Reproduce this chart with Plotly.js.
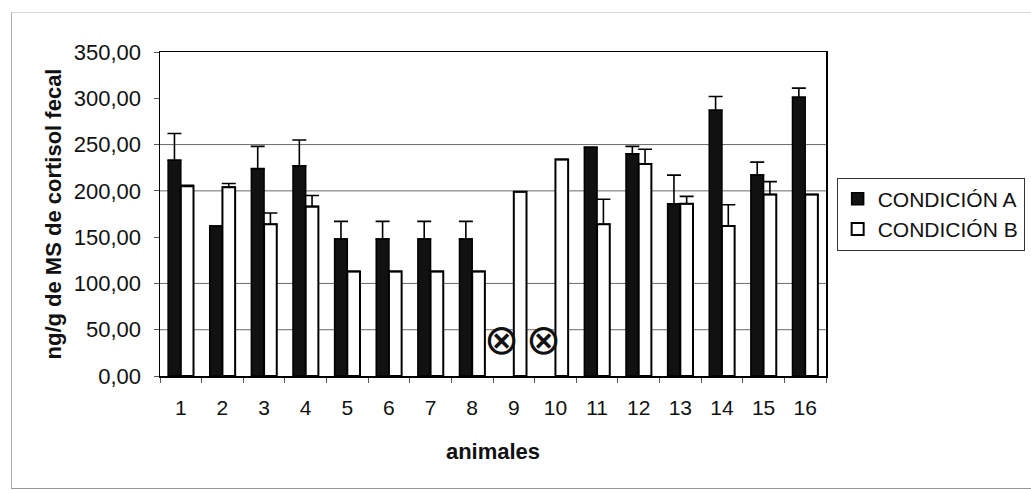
<!DOCTYPE html>
<html>
<head>
<meta charset="utf-8">
<script src="https://cdn.plot.ly/plotly-3.0.1.min.js"></script>
<style>
  html, body { margin: 0; padding: 0; background: #ffffff; }
  #wrap { position: relative; width: 1031px; height: 490px; overflow: hidden; }
  #chart { width: 1031px; height: 490px; }
  #frame { position: absolute; left: 11px; top: 12px; width: 1040px; height: 475px;
           border-left: 1.5px solid #aaaaaa; border-top: 1px solid #d8d8d8; border-bottom: 1.5px solid #999999;
           pointer-events: none; }
</style>
</head>
<body>
<div id="wrap">
  <div id="chart"></div>
  <div id="frame"></div>
</div>
<script>
// ---- data ----
const animals = ['1','2','3','4','5','6','7','8','9','10','11','12','13','14','15','16'];
const condA = [233, 162, 224, 227, 148, 148, 148, 148, null, null, 247, 240, 186, 287, 217, 301];
const errA  = [29, null, 24, 28, 19, 19, 19, 19, null, null, null, 8, 31, 15, 14, 10];
const condB = [205, 204, 164, 183, 113, 113, 113, 113, 199, 234, 164, 229, 186, 162, 196, 196];
const errB  = [1, 4, 12, 12, null, null, null, null, null, null, 27, 16, 8, 23, 14, null];
const seriesNames = ['CONDICIÓN A', 'CONDICIÓN B'];
const missingA = ['9', '10'];      // animals with no condition-A sample (⊗)
const missingMarkLevel = 39;       // height at which the ⊗ sign is written
const yTicks = [0, 50, 100, 150, 200, 250, 300, 350];
const gridTicks = [50, 100, 200, 250];

const toErr = arr => arr.map(v => (v === null ? NaN : v));
const zeros = animals.map(() => 0);
const FONT = '"Liberation Sans", Arial, sans-serif';

const traces = [
  {
    type: 'bar', name: seriesNames[0], x: animals, y: condA,
    marker: { color: '#111111', line: { color: '#000000', width: 1.5 } },
    error_y: { type: 'data', symmetric: false, array: toErr(errA), arrayminus: zeros,
               color: '#000000', thickness: 1.6, width: 7, visible: true }
  },
  {
    type: 'bar', name: seriesNames[1], x: animals, y: condB,
    marker: { color: '#ffffff', line: { color: '#000000', width: 2 } },
    error_y: { type: 'data', symmetric: false, array: toErr(errB), arrayminus: zeros,
               color: '#000000', thickness: 1.6, width: 7, visible: true }
  }
];

// category axis: annotations are positioned by category index
const annotations = missingA.map(a => ({
  x: animals.indexOf(a), y: missingMarkLevel, xref: 'x', yref: 'y', text: '⊗', showarrow: false,
  xshift: -12, font: { family: '"DejaVu Sans", sans-serif', size: 42, color: '#111111' }
}));

const shapes = gridTicks.map(v => ({
  type: 'line', xref: 'paper', x0: 0, x1: 1, yref: 'y', y0: v, y1: v,
  layer: 'below', line: { color: '#6a6a6a', width: 1 }
}));

const layout = {
  width: 1031, height: 490,
  margin: { l: 160, r: 205, t: 52, b: 114, pad: 0, autoexpand: false },
  paper_bgcolor: '#ffffff', plot_bgcolor: '#ffffff',
  separators: ', ',
  barmode: 'group', bargap: 0.39, bargroupgap: 0,
  showlegend: true,
  font: { family: FONT, size: 20, color: '#111111' },
  xaxis: {
    type: 'category', tickson: 'boundaries', ticks: 'outside', ticklen: 5, tickcolor: '#555',
    ticklabelstandoff: 12,
    showline: true, linecolor: '#000000', linewidth: 1.5, mirror: true,
    tickfont: { family: FONT, size: 21, color: '#111' },
    title: { text: '<b>animales</b>', font: { family: FONT, size: 22, color: '#111' }, standoff: 26 }
  },
  yaxis: {
    range: [0, 350], tickvals: yTicks, tickformat: '.2f', ticks: 'outside', ticklen: 5, tickcolor: '#555',
    ticklabelstandoff: 8,
    showgrid: false, zeroline: false,
    showline: true, linecolor: '#000000', linewidth: 1.5, mirror: true,
    tickfont: { family: FONT, size: 22, color: '#111' },
    title: { text: '<b>ng/g de MS de cortisol fecal</b>', font: { family: FONT, size: 22, color: '#111' }, standoff: 6 }
  },
  legend: {
    x: 1.016, xanchor: 'left', y: 0.5, yanchor: 'middle',
    bordercolor: '#333333', borderwidth: 1, bgcolor: '#ffffff',
    font: { family: FONT, size: 21, color: '#111' }
  },
  shapes: shapes,
  annotations: annotations
};

Plotly.newPlot('chart', traces, layout, { displayModeBar: false, staticPlot: true });
</script>
</body>
</html>
